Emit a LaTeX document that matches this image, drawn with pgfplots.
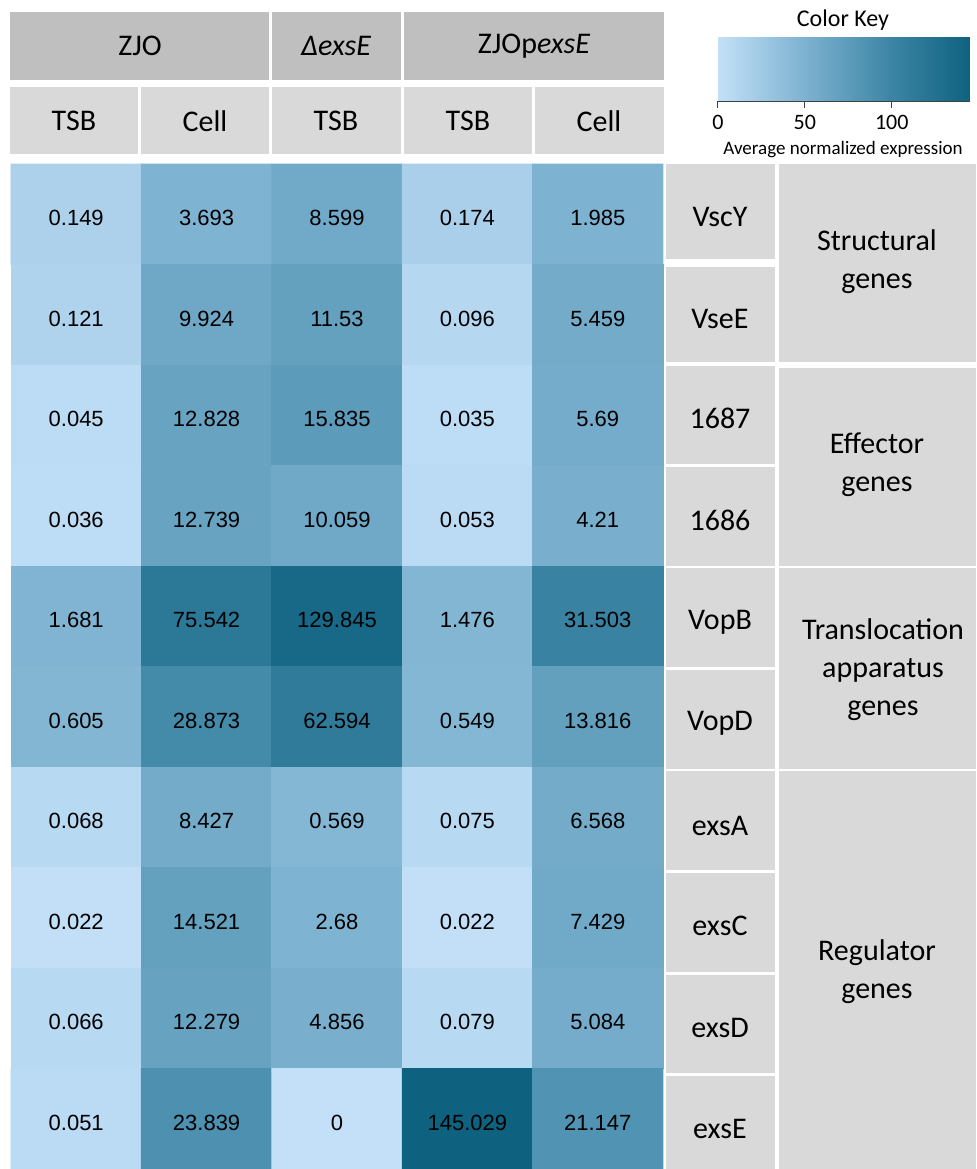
\documentclass[border=0pt]{standalone}
\usepackage{fontspec}
\setmainfont{Carlito}
\newfontfamily\arial{Liberation Sans}
\usepackage{pgfplots}
\pgfplotsset{compat=1.18}
\usepackage{pgfplotstable}
\definecolor{hdrA}{HTML}{BFBFBF}
\definecolor{hdrB}{HTML}{D9D9D9}

% c = column (0 ZJO TSB, 1 ZJO Cell, 2 dexsE TSB, 3 ZJOpexsE TSB, 4 ZJOpexsE Cell)
% r = row (gene), v = average normalized expression, lvl = colour position on the key
\pgfplotstableread{
c r v lvl
0 0 0.149 16
1 0 3.693 49
2 0 8.599 59
3 0 0.174 18
4 0 1.985 50
0 1 0.121 14
1 1 9.924 61
2 1 11.53 69
3 1 0.096 10
4 1 5.459 58
0 2 0.045 5
1 2 12.828 66
2 2 15.835 75
3 2 0.035 4
4 2 5.69 56
0 3 0.036 4
1 3 12.739 66
2 3 10.059 60
3 3 0.053 6
4 3 4.21 53
0 4 1.681 48
1 4 75.542 116
2 4 129.845 136
3 4 1.476 46
4 4 31.503 103
0 5 0.605 46
1 5 28.873 94
2 5 62.594 112
3 5 0.549 45
4 5 13.816 70
0 6 0.068 8
1 6 8.427 58
2 6 0.569 45
3 6 0.075 8
4 6 6.568 58
0 7 0.022 1
1 7 14.521 69
2 7 2.68 49
3 7 0.022 1
4 7 7.429 59
0 8 0.066 8
1 8 12.279 67
2 8 4.856 53
3 8 0.079 8
4 8 5.084 56
0 9 0.051 6
1 9 23.839 87
2 9 0 0
3 9 145.029 145
4 9 21.147 84
}\cells

\begin{document}
\begin{tikzpicture}
\begin{axis}[name=ax, at={(0,0)}, anchor=north west,
  scale only axis, width=326pt, height=502.5pt,
  xmin=-0.5, xmax=4.5, ymin=-0.5, ymax=9.5, y dir=reverse,
  axis lines=none, xtick=\empty, ytick=\empty, clip=false,
  colormap={key}{rgb255(0pt)=(195,224,248) rgb255(50pt)=(125,178,208) rgb255(100pt)=(60,132,164) rgb255(145pt)=(14,98,128)},
  point meta min=0, point meta max=145,
  colorbar horizontal,
  colorbar/width=32pt,
  colorbar style={
    at={(parent axis.north east)}, anchor=south west, xshift=27.5pt, yshift=40pt,
    scale only axis, width=126pt,
    xtick={0,50,100}, xtick pos=bottom,
    axis line style={draw=none},
    tick align=outside, major tick length=3.5pt,
    xtick style={gray!50!black, line width=0.5pt},
    xticklabel style={font=\fontsize{11}{13}\selectfont},
    /pgf/number format/assume math mode=true,
    after end axis/.code={\draw[gray!50!black, line width=0.5pt] (rel axis cs:0,0) -- (rel axis cs:1,0);},
  },
]
\addplot[matrix plot*, mesh/cols=5, point meta=explicit] table[x=c, y=r, meta=lvl] {\cells};
\addplot[draw=none, mark=none, nodes near coords, point meta=explicit symbolic,
  nodes near coords style={anchor=center, font=\arial\fontsize{11}{13}\selectfont, text=black, yshift=-2pt}]
  table[x=c, y=r, meta=v] {\cells};
\end{axis}

\begin{scope}[shift={(ax.north west)}, x=0.5pt, y=-0.5pt, shift={(-11,-164)}]
  % top header
  \fill[hdrA] (10,12) rectangle (269,80);
  \fill[hdrA] (272,12) rectangle (401,80);
  \fill[hdrA] (404,12) rectangle (664,80);
  \fill[hdrB] (10,87) rectangle (138,154);
  \fill[hdrB] (141,87) rectangle (269,154);
  \fill[hdrB] (272,87) rectangle (401,154);
  \fill[hdrB] (404,87) rectangle (532,154);
  \fill[hdrB] (535,87) rectangle (664,154);
  \begin{scope}[every node/.style={font=\fontsize{15}{18}\selectfont, anchor=center}]
    \node at (140,46) {ZJO};
    \node at (336,46) {\itshape ΔexsE};
    \node at (534,46) {ZJOp\textit{exsE}};
    \node at (74,121) {TSB};
    \node at (205,121) {Cell};
    \node at (336,121) {TSB};
    \node at (468,121) {TSB};
    \node at (599,121) {Cell};
  \end{scope}
  % gene column
  \fill[hdrB] (666,164) rectangle (775,259);
  \fill[hdrB] (666,267) rectangle (775,362);
  \fill[hdrB] (666,366) rectangle (775,464);
  \fill[hdrB] (666,467) rectangle (775,566);
  \fill[hdrB] (666,568) rectangle (775,667);
  \fill[hdrB] (666,670) rectangle (775,769);
  \fill[hdrB] (666,771) rectangle (775,870);
  \fill[hdrB] (666,873) rectangle (775,972);
  \fill[hdrB] (666,975) rectangle (775,1073);
  \fill[hdrB] (666,1076) rectangle (775,1169);
  % group column
  \fill[hdrB] (779,164) rectangle (976,362);
  \fill[hdrB] (779,368) rectangle (976,566);
  \fill[hdrB] (779,568) rectangle (976,769);
  \fill[hdrB] (779,771) rectangle (976,1169);
  \begin{scope}[every node/.style={font=\fontsize{15}{19}\selectfont, anchor=center, align=center}]
    \node at (720,217) {VscY};
    \node at (720,319) {VseE};
    \node at (720,418) {1687};
    \node at (720,520) {1686};
    \node at (720,622) {VopB};
    \node at (720,723) {VopD};
    \node at (720,826) {exsA};
    \node at (720,926) {exsC};
    \node at (720,1028) {exsD};
    \node at (720,1129) {exsE};
    \node at (877,262) {Structural\\genes};
    \node at (877,465) {Effector\\genes};
    \node at (883,670) {Translocation\\apparatus\\genes};
    \node at (877,972) {Regulator\\genes};
  \end{scope}
  \node[font=\fontsize{12}{14}\selectfont] at (843,20) {Color Key};
  \node[font=\fontsize{9.5}{11}\selectfont] at (843,150) {Average normalized expression};
  \pgfresetboundingbox
  \path (0,0) rectangle (976,1169);
\end{scope}
\end{tikzpicture}
\end{document}
